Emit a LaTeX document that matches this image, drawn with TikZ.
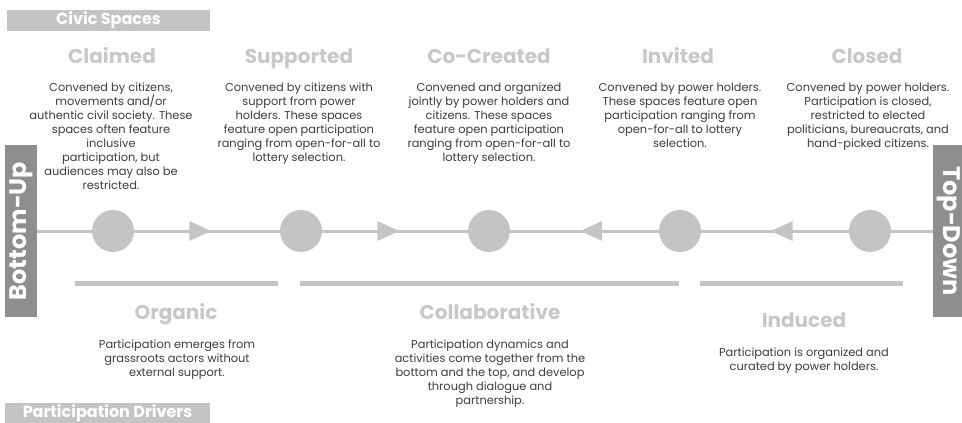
\documentclass[tikz,border=0pt]{standalone}
\usepackage{fontspec}
\setmainfont{Poppins}
\usetikzlibrary{arrows.meta, decorations.markings}

\definecolor{AxisGray}{RGB}{196,196,196}
\definecolor{TitleGray}{RGB}{200,200,200}
\definecolor{SideGray}{RGB}{142,142,142}
\definecolor{BodyGray}{RGB}{60,60,60}

\tikzset{
  stage/.style = {circle, fill=AxisGray, minimum size=42pt, inner sep=0pt},
  axis/.style = {draw=AxisGray, line width=3pt},
  fwd/.style = {postaction={decorate}, decoration={markings,
      mark=at position 0.53 with {\arrow[AxisGray]{Triangle[length=22pt, width=19pt]}}}},
  bar/.style = {draw=AxisGray, line width=5pt},
  headbox/.style = {fill=AxisGray, text=white, inner sep=0pt,
      font=\bfseries\fontsize{16}{16}\selectfont},
  sidebox/.style = {fill=SideGray, text=white, inner sep=0pt,
      minimum width=172pt, minimum height=32pt,
      font=\bfseries\fontsize{24}{24}\selectfont},
  title/.style = {text=TitleGray, anchor=base, inner sep=0pt,
      font=\bfseries\fontsize{20}{20}\selectfont},
  body/.style = {text=BodyGray, align=center, anchor=north, inner sep=0pt,
      font=\fontsize{11.4}{14}\selectfont}
}

\begin{document}
\begin{tikzpicture}[x=1pt, y=-1pt]
\useasboundingbox (0,0) rectangle (962,423);

% headers
\node[headbox, minimum width=203pt, minimum height=21pt] (civic) at (108.5,20.5) {Civic Spaces};
\node[headbox, minimum width=205pt, minimum height=20pt] (drivers) at (107.5,413) {Participation Drivers};

% ends of the axis
\node[sidebox, rotate=90] (bu) at (21,231) {Bottom-Up};
\node[sidebox, rotate=-90] (td) at (949,231) {Top-Down};

% civic spaces
\node[stage] (claimed) at (113,231) {};
\node[stage] (supported) at (301,231) {};
\node[stage] (cocreated) at (489,231) {};
\node[stage] (invited) at (680,231) {};
\node[stage] (closed) at (870,231) {};

\draw[axis] (bu) -- (claimed);
\draw[axis, fwd] (claimed) -- (supported);
\draw[axis, fwd] (supported) -- (cocreated);
\draw[axis, fwd] (invited) -- (cocreated);
\draw[axis, fwd] (closed) -- (invited);
\draw[axis] (closed) -- (td);

\node[title] (claimed-t) at (112,63) {Claimed};
\node[title] (supported-t) at (299,63) {Supported};
\node[title] (cocreated-t) at (489,63) {Co-Created};
\node[title] (invited-t) at (678,63) {Invited};
\node[title] (closed-t) at (867,63) {Closed};

\node[body] (claimed-d) at (111,83) {Convened by citizens,\\ movements and/or\\ authentic civil society. These\\
  spaces often feature\\ inclusive\\ participation, but\\ audiences may also be\\ restricted.};
\node[body] (supported-d) at (299,83) {Convened by citizens with\\ support from power\\ holders. These spaces\\
  feature open participation\\ ranging from open-for-all to\\ lottery selection.};
\node[body] (cocreated-d) at (489,83) {Convened and organized\\ jointly by power holders and\\ citizens. These spaces\\
  feature open participation\\ ranging from open-for-all to\\ lottery selection.};
\node[body] (invited-d) at (680,83) {Convened by power holders.\\ These spaces feature open\\ participation ranging from\\
  open-for-all to lottery\\ selection.};
\node[body] (closed-d) at (868,83) {Convened by power holders.\\ Participation is closed,\\ restricted to elected\\
  politicians, bureaucrats, and\\ hand-picked citizens.};

% participation drivers
\draw[bar] (75,283) -- (278,283);
\draw[bar] (300,283) -- (679,283);
\draw[bar] (700,283) -- (903,283);

\node[title] (organic-t) at (176,319) {Organic};
\node[title] (collab-t) at (490,319) {Collaborative};
\node[title] (induced-t) at (804,327) {Induced};

\node[body] (organic-d) at (177,340) {Participation emerges from\\ grassroots actors without\\ external support.};
\node[body] (collab-d) at (490,340) {Participation dynamics and\\ activities come together from the\\
  bottom and the top, and develop\\ through dialogue and\\ partnership.};
\node[body] (induced-d) at (804,348) {Participation is organized and\\ curated by power holders.};

\end{tikzpicture}
\end{document}
